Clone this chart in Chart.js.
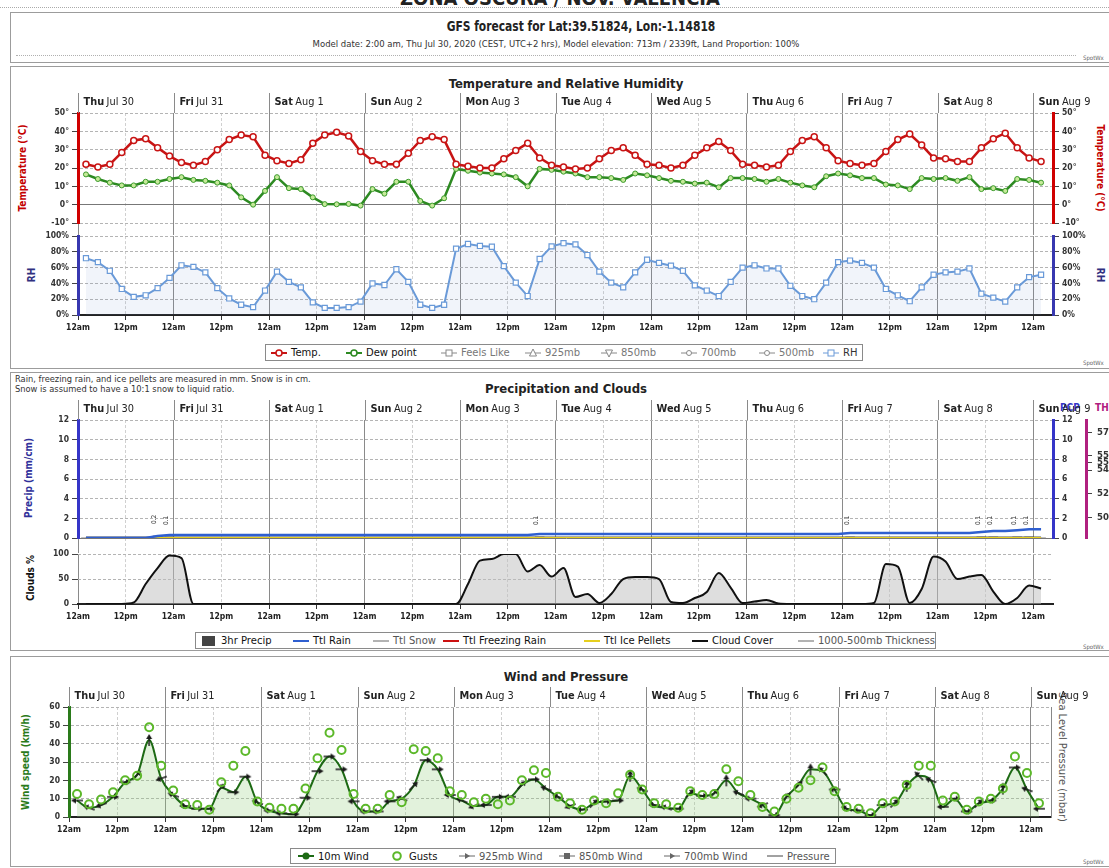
<!DOCTYPE html>
<html>
<head>
<meta charset="utf-8">
<script src="https://cdn.jsdelivr.net/npm/chart.js@4.4.0/dist/chart.umd.min.js"></script>
<style>
  body { margin: 0; background: #fff; }
  #page { position: relative; width: 1109px; height: 868px; overflow: hidden; background: #fff;
          font-family: 'Liberation Sans Narrow', 'DejaVu Sans Condensed', 'Arial Narrow', sans-serif; color: #222; }
  canvas { position: absolute; left: 0; }
  .box { position: absolute; border: 1px solid #9c9c9c; box-sizing: border-box; }
  .c { position: absolute; transform: translate(-50%, -50%); white-space: nowrap; }
  .l { position: absolute; white-space: nowrap; }
  .wide { font-family: 'DejaVu Sans', 'Verdana', sans-serif; }
  .vl { position: absolute; transform: translate(-50%, -50%) rotate(-90deg); white-space: nowrap; font-weight: bold; font-size: 10px; }
  .vr { position: absolute; transform: translate(-50%, -50%) rotate(90deg); white-space: nowrap; font-weight: bold; font-size: 10px; }
  .leg { position: absolute; border: 1px solid #8a8a8a; box-sizing: border-box; background: #fff; }
  .li { position: absolute; top: 0; height: 100%; display: flex; align-items: center; font-size: 10px; white-space: nowrap;
        font-family: 'DejaVu Sans', 'Verdana', sans-serif; }
  .li svg { margin-right: 4px; }
  .spot { position: absolute; font-size: 6px; color: #666; }
</style>
</head>
<body>
<div id="page">
  <div class="c" style="left:560px;top:-2px;font-size:20px;font-weight:bold;">ZONA OSCURA / NOV. VALENCIA</div>
  <div class="l" style="left:0;top:7px;width:1109px;border-top:1px dotted #aaa;"></div>

  <div class="box" style="left:10px;top:12px;width:1110px;height:51px;"></div>
  <div class="c" style="left:581px;top:26px;font-size:14px;font-weight:bold;transform:translate(-50%,-50%) scaleX(0.85);">GFS forecast for Lat:39.51824, Lon:-1.14818</div>
  <div class="c wide" style="left:556px;top:44px;font-size:8.5px;color:#333;">Model date: 2:00 am, Thu Jul 30, 2020 (CEST, UTC+2 hrs), Model elevation: 713m / 2339ft, Land Proportion: 100%</div>
  <div class="l" style="left:16px;top:55px;width:1060px;border-top:1px dotted #b0b0b0;"></div>
  <div class="spot" style="left:1083px;top:54px;">SpotWx</div>

  <div class="box" style="left:10px;top:66px;width:1110px;height:303px;"></div>
  <div class="c" style="left:566px;top:83px;font-size:13px;font-weight:bold;">Temperature and Relative Humidity</div>
  <div class="vl" style="left:22px;top:168px;color:#c40000;">Temperature (°C)</div>
  <div class="vr" style="left:1100px;top:168px;color:#c40000;">Temperature (°C)</div>
  <div class="vl" style="left:31px;top:275px;color:#30307f;">RH</div>
  <div class="vr" style="left:1100px;top:275px;color:#30307f;">RH</div>
  <div class="spot" style="left:1083px;top:359px;">SpotWx</div>

  <div class="box" style="left:10px;top:372px;width:1110px;height:279px;"></div>
  <div class="l wide" style="left:15px;top:374px;font-size:8.3px;color:#333;">Rain, freezing rain, and ice pellets are measured in mm. Snow is in cm.</div>
  <div class="l wide" style="left:15px;top:384px;font-size:8.3px;color:#333;">Snow is assumed to have a 10:1 snow to liquid ratio.</div>
  <div class="c" style="left:566px;top:388px;font-size:13px;font-weight:bold;">Precipitation and Clouds</div>
  <div class="vl" style="left:28px;top:478px;color:#30309a;">Precip (mm/cm)</div>
  <div class="vl" style="left:30px;top:578px;color:#111;">Clouds %</div>
  <div class="l" style="left:1060px;top:402px;font-size:10px;font-weight:bold;color:#3535c8;">PCP</div>
  <div class="l" style="left:1095px;top:402px;font-size:10px;font-weight:bold;color:#b0207f;">TH</div>
  <div class="spot" style="left:1083px;top:643px;">SpotWx</div>

  <div class="box" style="left:10px;top:656px;width:1110px;height:211px;"></div>
  <div class="c" style="left:566px;top:676px;font-size:13px;font-weight:bold;">Wind and Pressure</div>
  <div class="vl" style="left:25px;top:762px;color:#2a7a1a;">Wind speed (km/h)</div>
  <div class="vr" style="left:1062px;top:757px;color:#555;font-weight:normal;font-size:11px;">Sea Level Pressure (mbar)</div>
  <div class="spot" style="left:1083px;top:858px;">SpotWx</div>
</div>

<script>
const FONT = "'Liberation Sans Narrow','DejaVu Sans Condensed','Arial Narrow',sans-serif";
const WIDE = "'DejaVu Sans',Verdana,sans-serif";
Chart.defaults.font.family = FONT;
Chart.defaults.animation = false;

// ---- axis labels ----
const hourTicks = [0, 12, 24, 36, 48, 60, 72, 84, 96, 108, 120, 132, 144, 156, 168, 180, 192, 204, 216, 228, 240];
const dayNames = ['Thu', 'Fri', 'Sat', 'Sun', 'Mon', 'Tue', 'Wed', 'Thu', 'Fri', 'Sat', 'Sun'];
const dayDates = ['Jul 30', 'Jul 31', 'Aug 1', 'Aug 2', 'Aug 3', 'Aug 4', 'Aug 5', 'Aug 6', 'Aug 7', 'Aug 8', 'Aug 9'];

// forecast steps: 3-hourly from 2:00 am Thu Jul 30 (hours since midnight Jul 30)
const hours = Array.from({ length: 81 }, (_, i) => 2 + 3 * i);

// ---- temperature / dew point (°C) ----
const temp = [
  22, 20.5, 22, 28.5, 35, 36, 31, 26.5,
  23, 21.5, 23.5, 30, 35.5, 38, 37, 27,
  24, 22.5, 24.5, 33.5, 38, 39.5, 37.5, 29,
  24, 22, 22, 28, 35, 37, 35.5, 22,
  21, 20, 20, 25, 29.5, 33.5, 25.5, 21.5,
  20.5, 19.5, 20, 25, 29.5, 31, 27, 22,
  21.5, 20, 21.5, 27, 31, 34.5, 29.5, 22,
  21.5, 20.5, 21.5, 29, 35, 37, 31, 24,
  22.5, 21.5, 22.5, 29, 35.5, 38.5, 32.5, 25.5,
  25, 23.5, 23.5, 31, 36, 39, 31, 25.5,
  23.5
];
const dew = [
  16.5, 14, 12, 10.5, 10.5, 12.5, 12.5, 14,
  15, 13.5, 13, 12, 10.5, 4, 0, 7.5,
  15, 9, 8.5, 4, 0.3, 0.2, 0.4, -0.5,
  8.5, 6, 12.5, 12.5, 2, -0.5, 3.5, 19.5,
  18.5, 17.5, 17, 16.5, 15, 10, 19.5, 19,
  18, 17, 15, 15, 14.5, 13.5, 17, 16,
  14.5, 13, 12.5, 11.5, 12, 9.5, 14.5, 14.5,
  14, 12.5, 14, 12, 10.5, 9.5, 15.5, 17,
  16, 14.5, 14.5, 11, 10.5, 8.5, 14.5, 14,
  14.5, 13, 15, 8.5, 9, 7.5, 14, 13.5,
  12
];
// ---- relative humidity (%) ----
const rh = [
  72, 67, 56, 33, 23, 25, 34, 47,
  63, 61, 54, 34, 21, 13, 10, 31,
  55, 42, 35, 16, 9, 9, 10, 17,
  40, 38, 58, 42, 13, 9, 13, 84,
  90, 87.5, 86.5, 62, 41, 24, 71, 87,
  91, 89.5, 76, 55, 41, 35, 54, 70,
  66, 62.5, 56, 37.5, 31, 24, 42, 60,
  63, 59, 59, 37, 24, 20, 41, 67,
  69, 66, 60, 33, 25, 17.5, 35, 51,
  54, 55, 59, 27, 22, 17, 35, 48,
  51
];

// ---- precipitation (mm) ----
const precip3h = [
  0, 0, 0, 0, 0, 0, 0.2, 0.1,
  0, 0, 0, 0, 0, 0, 0, 0,
  0, 0, 0, 0, 0, 0, 0, 0,
  0, 0, 0, 0, 0, 0, 0, 0,
  0, 0, 0, 0, 0, 0, 0.1, 0,
  0, 0, 0, 0, 0, 0, 0, 0,
  0, 0, 0, 0, 0, 0, 0, 0,
  0, 0, 0, 0, 0, 0, 0, 0,
  0.1, 0, 0, 0, 0, 0, 0, 0,
  0, 0, 0, 0.1, 0.1, 0, 0.1, 0.1,
  0
];
const ttlRain = [
  0, 0, 0, 0, 0, 0, 0.2, 0.3,
  0.3, 0.3, 0.3, 0.3, 0.3, 0.3, 0.3, 0.3,
  0.3, 0.3, 0.3, 0.3, 0.3, 0.3, 0.3, 0.3,
  0.3, 0.3, 0.3, 0.3, 0.3, 0.3, 0.3, 0.3,
  0.3, 0.3, 0.3, 0.3, 0.3, 0.3, 0.4, 0.4,
  0.4, 0.4, 0.4, 0.4, 0.4, 0.4, 0.4, 0.4,
  0.4, 0.4, 0.4, 0.4, 0.4, 0.4, 0.4, 0.4,
  0.4, 0.4, 0.4, 0.4, 0.4, 0.4, 0.4, 0.4,
  0.5, 0.5, 0.5, 0.5, 0.5, 0.5, 0.5, 0.5,
  0.5, 0.5, 0.5, 0.6, 0.7, 0.7, 0.8, 0.9,
  0.9
];
// snow / freezing rain / ice pellets stay at zero over the whole run
const flatHours = [2, 242];
const ttlSnow = [0, 0];
const ttlFreezing = [0, 0];
const ttlIce = [0, 0];
// 1000-500mb thickness axis ticks (axis is cut by the picture edge)
const thickTicks = [5780, 5580, 5520, 5460, 5260, 5060];

// ---- cloud cover (%) ----
const clouds = [
  0, 0, 0, 0, 3, 40, 72, 97,
  92, 0, 0, 0, 0, 0, 0, 0,
  0, 0, 0, 0, 0, 0, 0, 0,
  0, 0, 0, 0, 0, 0, 0, 0,
  40, 87, 90, 100, 100, 65, 78, 55,
  72, 14, 20, 2, 20, 50, 54, 54,
  50, 4, 2, 12, 24, 62, 33, 2,
  5, 8, 1, 0, 0, 0, 0, 0,
  0, 0, 2, 80, 75, 2, 30, 95,
  85, 50, 55, 58, 25, 0, 12, 37,
  31
];

// ---- wind (km/h) ----
const wind10m = [
  9, 5, 6.5, 11, 19, 23, 42, 21,
  12, 6, 4.5, 4.5, 16, 13.5, 22, 8,
  3.5, 2, 1.5, 10.5, 25, 33, 26, 8.5,
  3, 3, 8.5, 10, 17, 31, 26, 12,
  9, 6, 6.5, 11, 11, 17.5, 20.5, 15.5,
  11, 6, 4, 7.5, 8.5, 9, 22.5, 15,
  6.5, 5, 4.5, 13, 11.5, 13, 20, 13,
  10, 6.5, 1, 11, 17.5, 26, 25, 15,
  4.5, 3.5, 1, 6.5, 7.5, 17, 22.5, 20,
  5.5, 10, 3, 7.5, 9, 15.5, 27, 15,
  4.5
];
const gusts = [
  12.5, 7, 9.5, 13.5, 20, 22.5, 49, 28,
  14.5, 7, 6.5, 4, 19, 28, 36, 8.5,
  5, 4.5, 4.5, 15.5, 32, 46, 36.5, 12.5,
  4.5, 4.5, 12, 8, 37, 36, 32, 14,
  12, 8, 10, 7, 9, 20, 25.5, 24,
  11, 7.5, 4, 9, 7.5, 13, 23, 15,
  7.5, 7, 5, 14, 12, 12.5, 26, 19.5,
  12, 5.5, 3, 10, 16, 20, 27, 14,
  5.5, 4.5, 2, 7.5, 8.5, 17.5, 28, 28,
  9, 11, 4, 8.5, 10, 15.5, 33, 24,
  7.5
];
// arrow direction of the 10m wind markers (degrees, 0 = pointing right)
const windDir = [
  180, 200, 160, 0, 0, 315, 270, 160,
  200, 180, 0, 0, 315, 0, 0, 200,
  180, 180, 0, 0, 0, 0, 0, 180,
  180, 180, 180, 200, 315, 0, 0, 180,
  200, 160, 180, 0, 180, 315, 0, 200,
  200, 160, 180, 315, 0, 0, 270, 200,
  180, 200, 0, 315, 0, 315, 270, 200,
  180, 160, 0, 315, 315, 270, 225, 180,
  200, 180, 0, 0, 315, 270, 225, 200,
  180, 0, 0, 315, 0, 270, 0, 200,
  180
];

function pts(vals, xs) {
  xs = xs || hours;
  return vals.map((v, i) => ({ x: xs[i], y: v }));
}

const isDay = c => c.tick && c.tick.value % 24 === 0;

function xScale(o) {
  return {
    type: 'linear', min: 0, max: 245, offset: false,
    afterBuildTicks: s => { s.ticks = hourTicks.map(v => ({ value: v })); },
    afterFit: s => { s.height = o.height; },
    grid: {
      offset: false,
      color: c => isDay(c) ? '#8a8a8a' : '#d0d0d0',
      tickColor: c => o.labels ? '#333' : (isDay(c) ? '#8a8a8a' : '#d0d0d0'),
      tickLength: o.tickLength,
      tickBorderDash: c => o.labels ? [] : (isDay(c) ? [] : [3, 2])
    },
    border: { display: !!o.labels, color: '#222', width: 2, dash: c => (c.tick && !isDay(c)) ? [3, 2] : [] },
    ticks: {
      display: !!o.labels, autoSkip: false, maxRotation: 0, padding: 3, color: '#222',
      font: { size: 8.5, weight: 'bold' },
      callback: v => v % 24 === 0 ? '12am' : '12pm'
    }
  };
}

function yScale(o) {
  return {
    type: 'linear', position: o.pos || 'left', min: o.min, max: o.max, weight: o.weight || 0,
    afterBuildTicks: o.ticks ? (s => { s.ticks = o.ticks.map(v => ({ value: v })); }) : undefined,
    afterFit: s => { s.width = o.width; },
    grid: {
      drawOnChartArea: !o.right,
      color: c => (c.tick && c.tick.value === o.base) ? '#777' : '#b4b4b4',
      tickColor: o.tickColor || '#444', tickLength: 6, tickBorderDash: [], drawTicks: o.drawTicks !== false
    },
    border: { display: o.border !== false, color: o.color, width: o.bw || 3, dash: c => (c.tick && c.tick.value === o.base) ? [] : [3, 2] },
    ticks: {
      display: o.labels !== false, stepSize: o.step, padding: o.pad || 3, color: o.labelColor || '#333',
      font: { size: o.fs || 8.5, weight: 'bold' }, callback: o.fmt || (v => v)
    }
  };
}

const dayPlugin = {
  id: 'days',
  afterDraw(chart) {
    const { ctx, chartArea } = chart;
    const x = chart.scales.x;
    ctx.save();
    ctx.strokeStyle = '#8a8a8a';
    ctx.lineWidth = 1;
    ctx.textBaseline = 'middle';
    dayNames.forEach((d, i) => {
      const px = Math.round(x.getPixelForValue(i * 24)) + 0.5;
      ctx.beginPath();
      ctx.moveTo(px, chartArea.top - 20);
      ctx.lineTo(px, chartArea.top);
      ctx.stroke();
      ctx.fillStyle = '#222';
      ctx.font = 'bold 9.8px ' + WIDE;
      ctx.fillText(d, px + 5, chartArea.top - 11);
      const w = ctx.measureText(d + ' ').width;
      ctx.font = '9.8px ' + WIDE;
      ctx.fillText(dayDates[i], px + 5 + w - 1, chartArea.top - 11);
    });
    ctx.restore();
  }
};

const precipLabels = {
  id: 'pcpLabels',
  afterDatasetsDraw(chart) {
    const { ctx } = chart;
    const x = chart.scales.x, y = chart.scales.y;
    ctx.save();
    ctx.font = '6.5px ' + FONT;
    ctx.fillStyle = '#333';
    ctx.textBaseline = 'middle';
    precip3h.forEach((v, i) => {
      if (!v) return;
      ctx.save();
      ctx.translate(x.getPixelForValue(hours[i]) - 3, y.getPixelForValue(v) - 12);
      ctx.rotate(-Math.PI / 2);
      ctx.fillText(v.toFixed(1), 0, 0);
      ctx.restore();
    });
    ctx.restore();
  }
};

function makeChart(top, height, config) {
  const c = document.createElement('canvas');
  c.width = 1109; c.height = height;
  c.style.top = top + 'px';
  c.style.width = '1109px'; c.style.height = height + 'px';
  document.getElementById('page').appendChild(c);
  config.options.responsive = false;
  config.options.animation = false;
  config.options.plugins = Object.assign({ legend: { display: false }, tooltip: { enabled: false } }, config.options.plugins || {});
  return new Chart(c, config);
}

// arrow marker for wind direction
const arrow = document.createElement('canvas');
arrow.width = 14; arrow.height = 14;
(function () {
  const g = arrow.getContext('2d');
  g.strokeStyle = '#1a1a1a'; g.fillStyle = '#1a1a1a'; g.lineWidth = 1.5;
  g.beginPath(); g.moveTo(1, 7); g.lineTo(9, 7); g.stroke();
  g.beginPath(); g.moveTo(13, 7); g.lineTo(8, 4); g.lineTo(8, 10); g.closePath(); g.fill();
})();

// ---------- Temperature ----------
makeChart(90, 146, {
  type: 'line',
  data: {
    datasets: [
      { label: 'Temp.', data: pts(temp), borderColor: '#c81414', borderWidth: 2.5, pointRadius: 3,
        pointBorderWidth: 1.5, pointBackgroundColor: '#fff', pointBorderColor: '#c81414' },
      { label: 'Dew point', data: pts(dew), borderColor: '#2d8a22', borderWidth: 2.5, pointRadius: 2.5,
        pointBorderWidth: 1, pointBackgroundColor: '#c6ea9a', pointBorderColor: '#3a9a2a' }
    ]
  },
  options: {
    layout: { padding: { top: 23, left: 0, right: 0, bottom: 0 } },
    scales: {
      x: xScale({ height: 13, tickLength: 12, labels: false }),
      y: yScale({ min: -10, max: 50, step: 10, base: 0, color: '#d00000', width: 78, fmt: v => v + '°' }),
      y2: yScale({ pos: 'right', right: true, min: -10, max: 50, step: 10, color: '#d00000', width: 56, fmt: v => v + '°' })
    }
  },
  plugins: [dayPlugin]
});

// ---------- Relative humidity ----------
makeChart(228, 110, {
  type: 'line',
  data: {
    datasets: [
      { label: 'RH', data: pts(rh), borderColor: '#6a9ad8', borderWidth: 2, pointRadius: 3.6, pointStyle: 'rect',
        pointBorderWidth: 1.2, pointBackgroundColor: '#fff', pointBorderColor: '#6a9ad8',
        fill: 'origin', backgroundColor: 'rgba(120,150,210,0.10)' }
    ]
  },
  options: {
    layout: { padding: { top: 7, left: 0, right: 0, bottom: 0 } },
    scales: {
      x: xScale({ height: 23, tickLength: 5, labels: true }),
      y: yScale({ min: 0, max: 100, step: 20, color: '#3838b0', width: 78, fmt: v => v + '%' }),
      y2: yScale({ pos: 'right', right: true, min: 0, max: 100, step: 20, color: '#3838b0', width: 56, fmt: v => v + '%' })
    }
  }
});

// ---------- Precipitation ----------
makeChart(395, 159, {
  type: 'line',
  data: {
    datasets: [
      { label: 'Ttl Rain', data: pts(ttlRain), borderColor: '#2f5fd0', borderWidth: 2.5, pointRadius: 0 },
      { label: 'Ttl Ice Pellets', data: pts(ttlIce, flatHours), borderColor: '#e6cf1e', borderWidth: 2, pointRadius: 0 },
      { label: 'Ttl Freezing Rain', data: pts(ttlFreezing, flatHours), borderColor: '#cc1111', borderWidth: 1, pointRadius: 0 },
      { label: 'Ttl Snow', data: pts(ttlSnow, flatHours), borderColor: '#555', borderWidth: 3, pointRadius: 0 },
      { type: 'bar', label: '3hr Precip', data: pts(precip3h), backgroundColor: '#444', barThickness: 9 }
    ]
  },
  options: {
    layout: { padding: { top: 25, left: 0, right: 0, bottom: 0 } },
    scales: {
      x: xScale({ height: 16, tickLength: 15, labels: false }),
      y: yScale({ min: 0, max: 12, step: 2, base: 0, color: '#3535c8', width: 78 }),
      y2: yScale({ pos: 'right', right: true, min: 0, max: 12, step: 2, color: '#3535c8', width: 33, weight: 0 }),
      yTh: yScale({ pos: 'right', right: true, min: 4882, max: 5885, ticks: thickTicks, color: '#b0207f',
                    width: 23, weight: 1, labelColor: '#333', pad: 5, fs: 9.5 })
    }
  },
  plugins: [dayPlugin, precipLabels]
});

// ---------- Clouds ----------
makeChart(546, 82, {
  type: 'line',
  data: {
    datasets: [
      { label: 'Cloud Cover', data: pts(clouds), borderColor: '#111', borderWidth: 2, pointRadius: 0,
        cubicInterpolationMode: 'monotone', fill: 'origin', backgroundColor: 'rgba(190,190,190,0.5)' }
    ]
  },
  options: {
    layout: { padding: { top: 7, left: 0, right: 56, bottom: 0 } },
    scales: {
      x: xScale({ height: 24, tickLength: 5, labels: true }),
      y: yScale({ min: 0, max: 100, step: 50, base: 0, color: '#888', border: false, width: 78 })
    }
  }
});

// ---------- Wind ----------
makeChart(686, 154, {
  type: 'line',
  data: {
    datasets: [
      { label: 'Gusts', data: pts(gusts), showLine: false, pointRadius: 4, pointBorderWidth: 2,
        pointBackgroundColor: 'rgba(0,0,0,0)', pointBorderColor: '#5cb82a' },
      { label: '10m Wind', data: pts(wind10m), borderColor: '#1d6a14', borderWidth: 2, tension: 0.3,
        cubicInterpolationMode: 'monotone', pointStyle: arrow, rotation: windDir, pointRadius: 3,
        fill: 'origin', backgroundColor: 'rgba(150,210,130,0.28)' }
    ]
  },
  options: {
    layout: { padding: { top: 21, left: 0, right: 0, bottom: 0 } },
    scales: {
      x: xScale({ height: 23, tickLength: 5, labels: true }),
      y: yScale({ min: 0, max: 60, step: 10, base: 0, color: '#2a7a1a', width: 69 }),
      yP: yScale({ pos: 'right', right: true, min: 1000, max: 1030, color: '#888', bw: 1, width: 58,
                   labels: false, drawTicks: false })
    }
  },
  plugins: [dayPlugin]
});

// ---------- Legends ----------
function sym(kind, color) {
  const line = '<line x1="0" y1="5" x2="16" y2="5" stroke="' + color + '" stroke-width="2"/>';
  const thin = '<line x1="0" y1="5" x2="16" y2="5" stroke="' + color + '" stroke-width="1"/>';
  let s = '';
  if (kind === 'circle') s = line + '<circle cx="8" cy="5" r="3" fill="#fff" stroke="' + color + '" stroke-width="1.5"/>';
  if (kind === 'square') s = thin + '<rect x="5" y="2" width="6" height="6" fill="#fff" stroke="' + color + '" stroke-width="1"/>';
  if (kind === 'tri') s = thin + '<path d="M8 1 L11.5 8 L4.5 8 Z" fill="#fff" stroke="' + color + '" stroke-width="1"/>';
  if (kind === 'tridown') s = thin + '<path d="M8 9 L11.5 2 L4.5 2 Z" fill="#fff" stroke="' + color + '" stroke-width="1"/>';
  if (kind === 'dot') s = thin + '<circle cx="8" cy="5" r="2.5" fill="#fff" stroke="' + color + '" stroke-width="1"/>';
  if (kind === 'line') s = line;
  if (kind === 'thin') s = thin;
  if (kind === 'bar') s = '<rect x="1" y="0" width="13" height="10" fill="#444"/>';
  if (kind === 'fillcircle') s = line + '<circle cx="8" cy="5" r="3.5" fill="' + color + '"/>';
  if (kind === 'hollow') s = '<circle cx="8" cy="5" r="3.8" fill="none" stroke="' + color + '" stroke-width="2"/>';
  if (kind === 'arrow') s = thin + '<path d="M11 5 L6 2 L6 8 Z" fill="' + color + '"/>';
  if (kind === 'sq') s = thin + '<rect x="5" y="2" width="6" height="6" fill="' + color + '"/>';
  return '<svg width="16" height="10">' + s + '</svg>';
}

function legend(box, items) {
  const page = document.getElementById('page');
  const d = document.createElement('div');
  d.className = 'leg';
  Object.assign(d.style, { left: box[0] + 'px', top: box[1] + 'px', width: box[2] + 'px', height: box[3] + 'px' });
  items.forEach(it => {
    const s = document.createElement('div');
    s.className = 'li';
    s.style.left = (it[0] - box[0]) + 'px';
    s.innerHTML = sym(it[1], it[2]) + '<span style="color:' + it[4] + '">' + it[3] + '</span>';
    d.appendChild(s);
  });
  page.appendChild(d);
}

legend([265, 344, 598, 17], [
  [270, 'circle', '#c81414', 'Temp.', '#111'],
  [345, 'circle', '#2d8a22', 'Dew point', '#111'],
  [440, 'square', '#888', 'Feels Like', '#777'],
  [524, 'tri', '#888', '925mb', '#777'],
  [600, 'tridown', '#888', '850mb', '#777'],
  [680, 'dot', '#888', '700mb', '#777'],
  [758, 'dot', '#888', '500mb', '#777'],
  [822, 'square', '#6a9ad8', 'RH', '#333']
]);

legend([195, 632, 741, 17], [
  [200, 'bar', '#444', '3hr Precip', '#111'],
  [292, 'line', '#2f5fd0', 'Ttl Rain', '#111'],
  [372, 'thin', '#666', 'Ttl Snow', '#555'],
  [442, 'line', '#cc1111', 'Ttl Freezing Rain', '#111'],
  [583, 'line', '#e6cf1e', 'Ttl Ice Pellets', '#111'],
  [691, 'line', '#111', 'Cloud Cover', '#111'],
  [797, 'thin', '#666', '1000-500mb Thickness', '#555']
]);

legend([290, 848, 546, 16], [
  [297, 'fillcircle', '#1d6a14', '10m Wind', '#111'],
  [388, 'hollow', '#5cb82a', 'Gusts', '#111'],
  [458, 'arrow', '#666', '925mb Wind', '#555'],
  [558, 'sq', '#666', '850mb Wind', '#555'],
  [663, 'arrow', '#666', '700mb Wind', '#555'],
  [766, 'thin', '#444', 'Pressure', '#555']
]);
</script>
</body>
</html>
